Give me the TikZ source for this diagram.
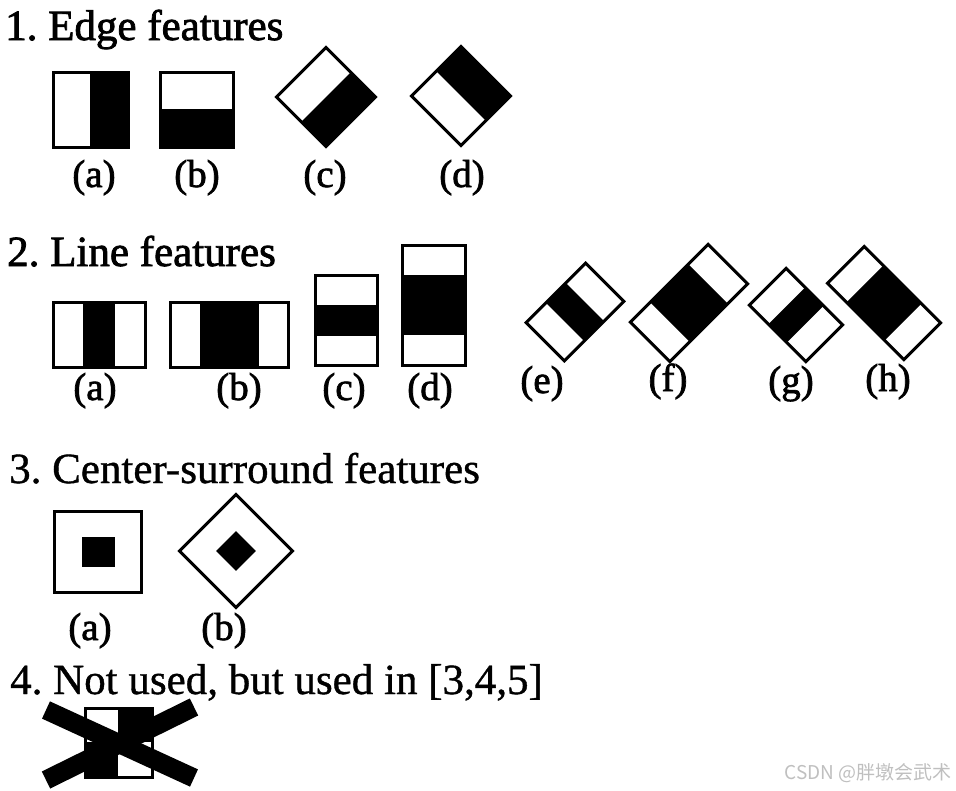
\documentclass[tikz,border=0pt]{standalone}
\usepackage{fontspec}
\setmainfont{Liberation Serif}
\newfontfamily\inkfont[FakeBold=1.8]{Liberation Serif}
\newfontfamily\thinkfont[FakeBold=0.9]{Liberation Serif}
\newfontfamily\cjk{Noto Sans CJK SC}
\usepackage{tikz}
\frenchspacing

\begin{document}
\begin{tikzpicture}[x=1pt,y=-1pt]
        \tikzstyle{heading}=[anchor=base west,inner sep=0pt,font=\fontsize{43}{48}\inkfont]
        \tikzstyle{lightheading}=[heading,font=\fontsize{43}{48}\thinkfont]
        \tikzstyle{tag}=[anchor=base,inner sep=0pt,font=\fontsize{39}{44}\inkfont]
        \tikzstyle{frame}=[draw,line width=3pt]

        \useasboundingbox (0,0) rectangle (956,790);

        % 1. edge features
        \node[heading](edge) at (5,40){1. Edge features};

        \fill (90,72) rectangle (128,147);
        \draw[frame] (53,72) rectangle (128,147);

        \fill (160,109) rectangle (233,147);
        \draw[frame] (160,72) rectangle (233,147);

        \begin{scope}[shift={(326,97)},rotate=45]
        \fill (-35,0) rectangle (35,35);
        \draw[frame] (-35,-35) rectangle (35,35);
        \end{scope}

        \begin{scope}[shift={(461,96)},rotate=45]
        \fill (0,-35) rectangle (35,35);
        \draw[frame] (-35,-35) rectangle (35,35);
        \end{scope}

        \node[tag](ea) at (94,187){(a)};
        \node[tag](eb) at (197,187){(b)};
        \node[tag](ec) at (325,187){(c)};
        \node[tag](ed) at (462,187){(d)};

        % 2. line features
        \node[heading](line) at (7,266){2. Line features};

        \fill (83,302) rectangle (115,367);
        \draw[frame] (53,302) rectangle (145,367);

        \fill (200,302) rectangle (259,367);
        \draw[frame] (170,302) rectangle (288,367);

        \fill (315,305) rectangle (377,336);
        \draw[frame] (315,275) rectangle (377,365);

        \fill (402,275) rectangle (465,335);
        \draw[frame] (402,245) rectangle (465,365);

        \begin{scope}[shift={(575,312)},rotate=45]
        \fill (-14,-27) rectangle (14,27);
        \draw[frame] (-42,-27) rectangle (42,27);
        \end{scope}

        \begin{scope}[shift={(689,303)},rotate=45]
        \fill (-27,-28) rectangle (27,28);
        \draw[frame] (-55,-28) rectangle (55,28);
        \end{scope}

        \begin{scope}[shift={(796,315)},rotate=-45]
        \fill (-13,-26) rectangle (13,26);
        \draw[frame] (-40,-26) rectangle (40,26);
        \end{scope}

        \begin{scope}[shift={(884,303)},rotate=-45]
        \fill (-27,-26) rectangle (27,26);
        \draw[frame] (-54,-26) rectangle (54,26);
        \end{scope}

        \node[tag](la) at (95,400){(a)};
        \node[tag](lb) at (239,400){(b)};
        \node[tag](lc) at (344,400){(c)};
        \node[tag](ld) at (430,400){(d)};
        \node[tag](le) at (542,393){(e)};
        \node[tag](lf) at (668,391){(f)};
        \node[tag](lg) at (791,393){(g)};
        \node[tag](lh) at (888,391){(h)};

        % 3. center-surround features
        \node[lightheading](centre) at (9,483){3. Center-surround features};

        \fill (82,537) rectangle (115,567);
        \draw[frame] (54,511) rectangle (141,592);

        \begin{scope}[shift={(236,551)},rotate=45]
        \fill (-14,-14) rectangle (14,14);
        \draw[frame] (-40,-40) rectangle (40,40);
        \end{scope}

        \node[tag](ca) at (90,640){(a)};
        \node[tag](cb) at (224,640){(b)};

        % 4. not used
        \node[lightheading](unused) at (10,694){4. Not used, but used in [3,4,5]};

        \fill (118,708) rectangle (152,742);
        \fill (85,742) rectangle (118,777);
        \draw[frame] (85,708) rectangle (152,777);
        \draw[line width=19pt] (46,710) -- (194,778);
        \draw[line width=19pt] (46,780) -- (194,707);

        \node[anchor=base east,inner sep=0pt,text=black!25,font=\fontsize{19}{22}\cjk](mark) at (952,779){CSDN @胖墩会武术};

\end{tikzpicture}
\end{document}
